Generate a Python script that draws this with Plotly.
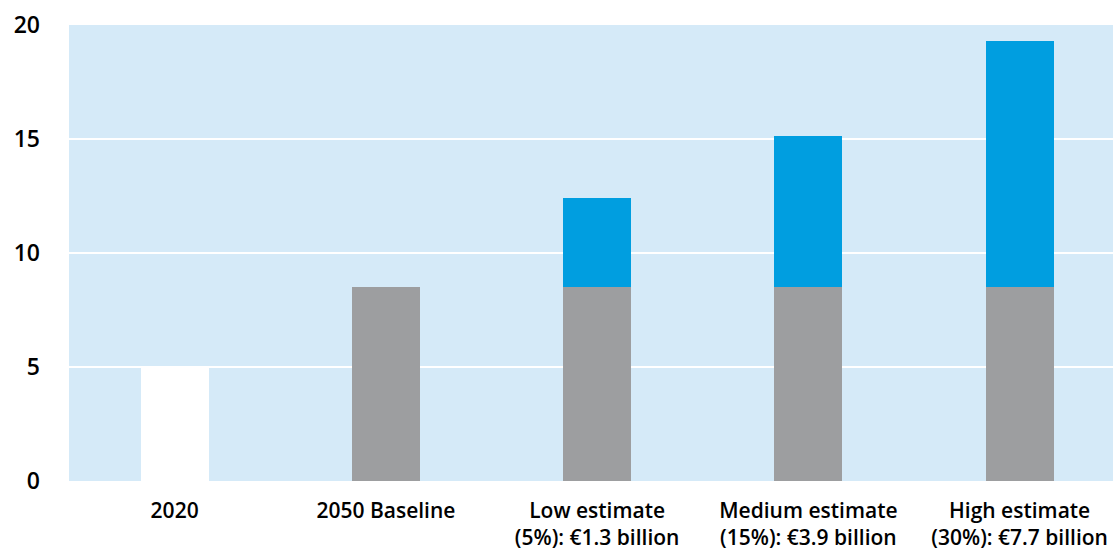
import plotly.graph_objects as go

categories = ["2020", "2050 Baseline", "Low estimate<br>(5%): €1.3 billion",
              "Medium estimate<br>(15%): €3.9 billion", "High estimate<br>(30%): €7.7 billion"]
base_values = [5.0, 8.5, 8.5, 8.5, 8.5]
extra_values = [0, 0, 3.9, 6.65, 10.8]
base_colors = ["#ffffff", "#9d9ea0", "#9d9ea0", "#9d9ea0", "#9d9ea0"]
extra_color = "#009ee0"
y_ticks = [0, 5, 10, 15, 20]

fig = go.Figure()
fig.add_trace(go.Bar(x=categories, y=base_values, marker=dict(color=base_colors, line=dict(width=0)),
                     hoverinfo="skip"))
fig.add_trace(go.Bar(x=categories, y=extra_values, marker=dict(color=extra_color, line=dict(width=0)),
                     hoverinfo="skip"))

fig.update_layout(
    barmode="stack",
    bargap=0.678,
    width=1113, height=552,
    margin=dict(l=69, r=0, t=25, b=71),
    paper_bgcolor="white",
    plot_bgcolor="#d5eaf8",
    showlegend=False,
    font=dict(family="Open Sans", color="#000000"),
)
fig.update_yaxes(range=[0, 20], tickvals=y_ticks, ticktext=[str(v) for v in y_ticks],
                 showgrid=True, gridcolor="white", gridwidth=2, zeroline=False,
                 tickfont=dict(size=23, weight=600), ticklabelstandoff=28, showline=False)
fig.update_xaxes(range=[-0.5, 4.442], showgrid=False, tickfont=dict(size=21, weight=600),
                 ticklabelstandoff=15, showline=False)

fig.write_html("out.html")
